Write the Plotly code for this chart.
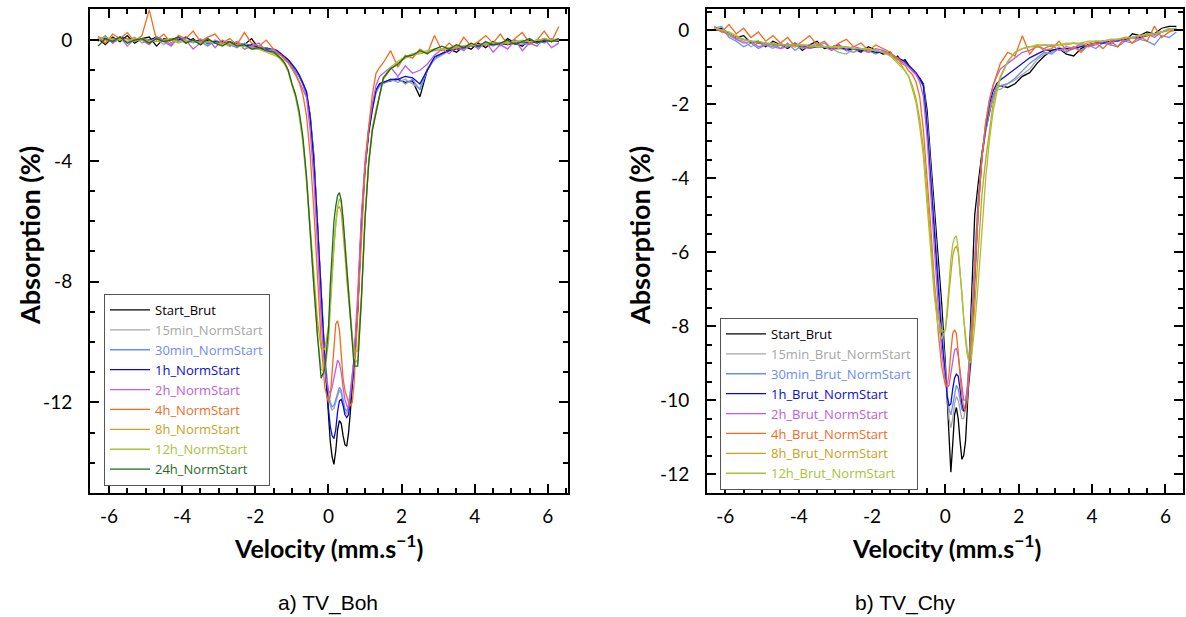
import plotly.graph_objects as go

# Shared velocity grid (mm/s)
V = [-6.3, -6.1, -5.9, -5.7, -5.5, -5.3, -5.1, -4.9, -4.7, -4.5, -4.3, -4.1, -3.9, -3.7, -3.5, -3.3, -3.1, -2.9, -2.7, -2.5, -2.3, -2.1, -1.9, -1.7, -1.5,
     -1.4, -1.3, -1.2, -1.1, -1.0, -0.9, -0.8, -0.7, -0.6, -0.5, -0.4,
     -0.3, -0.2, -0.1, 0.0, 0.05, 0.1, 0.15, 0.2, 0.25, 0.3, 0.35, 0.4, 0.45, 0.5, 0.55, 0.6, 0.65, 0.7, 0.8, 0.9, 1.0,
     1.1, 1.2, 1.3, 1.4,
     1.5, 1.7, 1.9, 2.1, 2.3, 2.5, 2.7, 2.9, 3.1, 3.3, 3.5, 3.7, 3.9, 4.1, 4.3, 4.5, 4.7, 4.9, 5.1, 5.3, 5.5, 5.7, 5.9, 6.1, 6.3]

# ---------------- a) TV_Boh ----------------
boh_names = ["Start_Brut", "15min_NormStart", "30min_NormStart", "1h_NormStart", "2h_NormStart",
             "4h_NormStart", "8h_NormStart", "12h_NormStart", "24h_NormStart"]
boh_colors = ["#000000", "#a6a6a6", "#6b8cf5", "#0a0ad8", "#c05ce0", "#f26b1d", "#c9a11c", "#a5c23a", "#1e6b1e"]

boh_start = [0.05, -0.15, 0.1, -0.05, 0.15, -0.1, 0.05, 0.1, -0.2, 0.05, 0.0, 0.1, -0.1, 0.05, -0.15, 0.0, -0.1, -0.05, -0.2, -0.1, -0.15, 0.05, -0.3, -0.25, -0.35,
             -0.4, -0.5, -0.55, -0.7, -0.85, -1.0, -1.2, -1.45, -1.8, -2.5, -3.8,
             -5.9, -8.4, -10.6, -12.4, -13.3, -13.8, -14.05, -13.6, -12.9, -12.6, -12.7, -13.1, -13.4, -13.45, -13.0, -12.3, -11.5, -10.8, -8.9, -6.1, -4.2,
             -3.0, -2.2, -1.7, -1.45,
             -1.4, -1.35, -1.3, -1.4, -1.35, -1.88, -1.0, -0.6, -0.45, -0.3, -0.4, -0.2, -0.3, -0.1, -0.25, -0.05, -0.15, 0.05, -0.1, -0.2, 0.0, -0.1, 0.05, -0.05, 0.0]
boh_15min = [0.0, 0.1, -0.1, 0.05, -0.05, 0.1, -0.1, 0.0, 0.05, -0.15, 0.05, -0.05, 0.0, -0.1, 0.05, -0.15, -0.05, -0.1, -0.2, -0.05, -0.2, -0.25, -0.2, -0.3, -0.35,
             -0.4, -0.45, -0.55, -0.65, -0.8, -0.95, -1.15, -1.4, -1.75, -2.5, -3.9,
             -6.0, -8.4, -10.4, -11.8, -12.1, -12.25, -12.2, -12.0, -11.8, -11.6, -11.7, -12.0, -12.3, -12.4, -12.2, -11.7, -11.1, -10.6, -8.8, -6.0, -4.2,
             -3.0, -2.25, -1.7, -1.5,
             -1.45, -1.3, -1.4, -1.3, -1.45, -1.6, -0.95, -0.65, -0.5, -0.35, -0.3, -0.25, -0.2, -0.2, -0.15, -0.1, -0.2, -0.05, -0.1, -0.15, -0.05, -0.1, 0.0, -0.05, 0.05]
boh_30min = [0.1, 0.0, -0.05, 0.1, -0.1, 0.05, 0.0, -0.1, 0.1, 0.0, -0.15, 0.05, -0.1, 0.0, -0.05, -0.2, 0.0, -0.1, -0.15, -0.25, -0.1, -0.2, -0.3, -0.25, -0.4,
             -0.45, -0.5, -0.6, -0.7, -0.85, -1.0, -1.2, -1.45, -1.8, -2.55, -4.0,
             -6.1, -8.5, -10.5, -11.7, -12.0, -12.15, -12.1, -11.9, -11.7, -11.5, -11.6, -11.9, -12.2, -12.3, -12.1, -11.6, -11.0, -10.6, -8.8, -6.0, -4.2,
             -3.0, -2.3, -1.75, -1.5,
             -1.4, -1.35, -1.25, -1.45, -1.3, -1.65, -1.0, -0.6, -0.45, -0.35, -0.3, -0.3, -0.15, -0.25, -0.1, -0.2, -0.1, -0.15, 0.0, -0.1, -0.15, 0.0, -0.1, 0.05, -0.05]
boh_1h = [0.1, 0.05, 0.0, 0.1, 0.05, -0.05, 0.05, 0.0, 0.1, -0.05, 0.05, 0.0, 0.1, -0.05, 0.0, -0.1, -0.05, -0.1, -0.05, -0.15, -0.2, -0.15, -0.25, -0.3, -0.3,
          -0.35, -0.45, -0.55, -0.65, -0.8, -0.95, -1.15, -1.4, -1.7, -2.55, -4.0,
          -6.1, -8.6, -10.6, -12.2, -12.8, -13.1, -13.2, -12.9, -12.3, -11.95, -11.9, -12.1, -12.4, -12.5, -12.4, -11.9, -11.3, -10.9, -9.0, -6.2, -4.3,
          -3.1, -2.3, -1.65, -1.45,
          -1.4, -1.3, -1.3, -1.2, -1.25, -1.45, -1.0, -0.55, -0.45, -0.35, -0.3, -0.25, -0.2, -0.2, -0.15, -0.15, -0.1, -0.15, -0.1, -0.05, -0.1, -0.05, -0.05, 0.0, -0.05]
boh_2h = [-0.05, 0.15, -0.1, 0.1, -0.2, 0.05, 0.0, -0.15, 0.1, -0.05, -0.2, 0.1, 0.0, -0.3, -0.1, 0.05, -0.25, 0.0, -0.15, -0.05, -0.3, -0.2, -0.1, -0.35, -0.3,
          -0.4, -0.5, -0.6, -0.75, -0.9, -1.1, -1.35, -1.6, -1.9, -3.0, -4.6,
          -6.8, -9.2, -11.0, -11.6, -11.7, -11.5, -11.2, -10.9, -10.6, -10.7, -11.0, -11.5, -11.9, -12.1, -12.2, -11.8, -11.2, -10.5, -8.4, -5.8, -4.0,
          -2.9, -2.1, -1.5, -1.2,
          -1.1, -0.9, -1.2, -0.85, -1.1, -1.0, -0.8, -0.5, -0.3, -0.45, -0.2, -0.35, -0.1, -0.3, -0.05, -0.4, -0.15, -0.3, 0.0, -0.35, -0.1, -0.2, 0.05, -0.25, -0.1]
boh_4h = [0.1, -0.1, 0.2, 0.05, 0.25, -0.05, 0.15, 1.0, 0.0, 0.2, -0.1, 0.15, 0.05, 0.3, -0.05, 0.1, 0.2, -0.1, 0.05, -0.15, 0.25, -0.1, -0.2, 0.0, -0.3,
          -0.45, -0.5, -0.65, -0.75, -0.95, -1.15, -1.4, -1.8, -2.5, -3.8, -5.6,
          -7.9, -10.0, -11.5, -12.0, -11.8, -11.0, -10.0, -9.4, -9.3, -9.6, -10.4, -11.2, -11.6, -11.8, -12.0, -12.1, -12.0, -11.4, -9.0, -6.3, -4.3,
          -2.9, -1.8, -1.1, -0.9,
          -0.75, -0.35, -0.9, -0.5, -0.6, -0.3, -0.45, 0.15, -0.35, -0.1, -0.3, 0.1, -0.2, -0.05, 0.15, -0.1, 0.2, -0.15, 0.05, 0.25, -0.1, 0.0, 0.3, -0.05, 0.45]
boh_8h = [0.1, 0.0, 0.05, 0.0, 0.05, -0.05, 0.05, 0.0, -0.05, 0.0, 0.05, -0.05, -0.05, 0.0, -0.1, -0.05, -0.1, -0.1, -0.15, -0.15, -0.2, -0.25, -0.3, -0.35, -0.45,
          -0.5, -0.6, -0.75, -1.0, -1.4, -1.85, -2.45, -3.3, -4.6, -6.2, -7.9,
          -9.3, -10.2, -10.25, -9.5, -8.6, -7.6, -6.7, -6.0, -5.6, -5.5, -5.7, -6.3, -7.1, -7.9, -8.6, -9.3, -9.9, -10.3, -10.3, -8.5, -5.9,
          -4.0, -2.9, -2.3, -1.75,
          -1.3, -0.95, -0.75, -0.6, -0.5, -0.45, -0.4, -0.35, -0.3, -0.3, -0.25, -0.2, -0.2, -0.15, -0.15, -0.1, -0.1, -0.1, -0.05, -0.05, -0.05, 0.0, 0.0, -0.05, 0.0]
boh_12h = [0.05, 0.1, 0.0, 0.05, -0.05, 0.05, 0.0, -0.05, 0.05, -0.05, 0.0, -0.1, 0.0, -0.05, -0.1, -0.05, -0.1, -0.15, -0.1, -0.2, -0.2, -0.3, -0.3, -0.4, -0.5,
           -0.55, -0.65, -0.8, -1.05, -1.45, -1.9, -2.5, -3.4, -4.7, -6.4, -8.2,
           -9.8, -10.9, -11.0, -10.0, -9.1, -7.9, -6.8, -6.0, -5.5, -5.25, -5.4, -6.0, -6.8, -7.6, -8.4, -9.2, -9.9, -10.5, -10.7, -8.7, -6.0,
           -4.1, -3.0, -2.4, -1.8,
           -1.25, -0.9, -0.7, -0.55, -0.45, -0.4, -0.35, -0.3, -0.3, -0.25, -0.2, -0.2, -0.15, -0.15, -0.1, -0.1, -0.1, -0.05, -0.05, 0.0, -0.05, 0.0, 0.05, 0.0, 0.05]
boh_24h = [-0.2, 0.05, -0.05, 0.1, -0.1, 0.0, 0.05, -0.1, 0.05, -0.05, 0.0, 0.1, -0.1, 0.0, -0.15, 0.05, -0.1, -0.2, -0.05, -0.2, -0.15, -0.3, -0.25, -0.35, -0.4,
           -0.5, -0.6, -0.75, -1.0, -1.45, -1.8, -2.35, -3.2, -4.5, -6.4, -8.15,
           -9.8, -11.2, -10.9, -9.6, -8.1, -6.9, -6.0, -5.5, -5.15, -5.05, -5.3, -5.9, -6.7, -7.5, -8.2, -9.1, -10.0, -10.8, -10.8, -8.6, -5.9,
           -4.1, -3.0, -2.4, -1.8,
           -1.25, -0.95, -0.8, -0.55, -0.5, -0.35, -0.45, -0.3, -0.2, -0.3, -0.15, -0.25, -0.1, -0.2, -0.05, -0.15, -0.1, 0.0, -0.15, -0.05, 0.05, -0.1, 0.0, -0.05, 0.05]
boh_series = [boh_start, boh_15min, boh_30min, boh_1h, boh_2h, boh_4h, boh_8h, boh_12h, boh_24h]

# ---------------- b) TV_Chy ----------------
chy_names = ["Start_Brut", "15min_Brut_NormStart", "30min_Brut_NormStart", "1h_Brut_NormStart",
             "2h_Brut_NormStart", "4h_Brut_NormStart", "8h_Brut_NormStart", "12h_Brut_NormStart"]
chy_colors = ["#000000", "#a6a6a6", "#6b8cf5", "#0a0ad8", "#c05ce0", "#f26b1d", "#c9a11c", "#a5c23a"]

chy_start = [0.0, 0.05, -0.1, -0.2, -0.15, -0.35, -0.3, -0.45, -0.3, -0.4, -0.5, -0.35, -0.55, -0.4, -0.3, -0.5, -0.45, -0.4, -0.55, -0.5, -0.6, -0.45, -0.55, -0.65, -0.6,
             -0.75, -0.7, -0.85, -0.8, -0.95, -1.1, -1.2, -1.3, -1.45, -2.15, -3.5,
             -4.8, -6.1, -7.4, -9.0, -10.0, -11.2, -11.95, -11.2, -10.4, -10.2, -10.5, -11.1, -11.6, -11.5, -11.1, -10.2, -9.0, -7.6, -5.0, -4.1, -3.3,
             -2.7, -2.2, -1.8, -1.55,
             -1.5, -1.55, -1.45, -1.25, -1.15, -0.9, -0.7, -0.55, -0.5, -0.65, -0.7, -0.5, -0.4, -0.35, -0.3, -0.35, -0.25, -0.3, -0.1, -0.15, -0.05, -0.1, 0.05, 0.1, 0.1]
chy_15min = [0.05, 0.0, -0.15, -0.25, -0.3, -0.45, -0.35, -0.4, -0.5, -0.35, -0.45, -0.4, -0.5, -0.45, -0.35, -0.45, -0.5, -0.6, -0.65, -0.5, -0.55, -0.6, -0.55, -0.6, -0.7,
             -0.75, -0.8, -0.85, -0.9, -1.0, -1.1, -1.2, -1.35, -1.5, -2.4, -3.7,
             -5.1, -6.5, -7.9, -9.2, -9.9, -10.5, -10.75, -10.5, -10.1, -9.9, -10.0, -10.3, -10.5, -10.5, -10.2, -9.7, -9.0, -8.2, -6.2, -4.5, -3.4,
             -2.7, -2.2, -1.85, -1.6,
             -1.6, -1.45, -1.35, -1.2, -1.05, -0.8, -0.65, -0.6, -0.45, -0.6, -0.5, -0.4, -0.45, -0.35, -0.3, -0.4, -0.25, -0.3, -0.2, -0.25, -0.1, -0.15, -0.05, 0.05, 0.0]
chy_30min = [0.05, 0.1, -0.2, -0.3, -0.45, -0.35, -0.5, -0.4, -0.45, -0.5, -0.35, -0.55, -0.4, -0.5, -0.45, -0.35, -0.5, -0.45, -0.55, -0.6, -0.5, -0.55, -0.65, -0.55, -0.65,
             -0.7, -0.8, -0.8, -0.9, -1.0, -1.1, -1.2, -1.35, -1.5, -2.5, -3.8,
             -5.2, -6.7, -8.1, -9.3, -9.8, -10.25, -10.4, -10.15, -9.8, -9.6, -9.7, -10.0, -10.25, -10.3, -10.1, -9.6, -8.9, -8.1, -6.2, -4.5, -3.4,
             -2.7, -2.1, -1.8, -1.55,
             -1.5, -1.45, -1.3, -1.1, -0.9, -0.75, -0.6, -0.65, -0.5, -0.6, -0.45, -0.55, -0.4, -0.5, -0.35, -0.4, -0.45, -0.3, -0.35, -0.25, -0.3, -0.4, -0.15, -0.2, -0.05]
chy_1h = [0.0, 0.0, -0.1, -0.2, -0.25, -0.3, -0.35, -0.35, -0.4, -0.4, -0.4, -0.4, -0.45, -0.45, -0.45, -0.45, -0.5, -0.5, -0.5, -0.5, -0.55, -0.55, -0.6, -0.6, -0.65,
          -0.7, -0.75, -0.8, -0.85, -0.95, -1.05, -1.15, -1.3, -1.5, -2.6, -3.95,
          -5.4, -6.9, -8.3, -9.4, -9.9, -10.15, -10.1, -9.7, -9.4, -9.3, -9.35, -9.7, -10.1, -10.3, -10.2, -10.0, -9.5, -8.9, -6.8, -4.8, -3.4,
          -2.6, -2.0, -1.65, -1.45,
          -1.35, -1.2, -1.05, -0.9, -0.75, -0.65, -0.55, -0.55, -0.5, -0.5, -0.5, -0.45, -0.4, -0.35, -0.35, -0.3, -0.3, -0.25, -0.2, -0.2, -0.15, -0.1, -0.05, 0.0, 0.0]
chy_2h = [0.05, -0.05, -0.1, -0.25, -0.35, -0.3, -0.45, -0.4, -0.35, -0.5, -0.45, -0.35, -0.45, -0.5, -0.4, -0.45, -0.55, -0.4, -0.5, -0.45, -0.5, -0.6, -0.5, -0.55, -0.65,
          -0.7, -0.75, -0.85, -0.9, -1.0, -1.1, -1.2, -1.4, -1.8, -2.9, -4.3,
          -5.9, -7.4, -8.7, -9.5, -9.65, -9.6, -9.3, -8.9, -8.65, -8.6, -8.8, -9.2, -9.7, -10.0, -10.0, -9.7, -9.1, -8.5, -6.6, -4.8, -3.4,
          -2.5, -1.9, -1.5, -1.25,
          -1.05, -0.9, -0.75, -0.6, -0.55, -0.45, -0.5, -0.4, -0.55, -0.45, -0.5, -0.35, -0.45, -0.4, -0.3, -0.35, -0.25, -0.3, -0.2, -0.25, -0.1, -0.2, -0.05, 0.0, 0.05]
chy_4h = [0.1, -0.05, 0.15, -0.1, 0.05, -0.2, -0.05, -0.3, -0.15, -0.35, -0.2, -0.45, -0.3, -0.15, -0.4, -0.3, -0.5, -0.35, -0.25, -0.45, -0.35, -0.55, -0.4, -0.5, -0.6,
          -0.7, -0.75, -0.9, -0.95, -1.1, -1.2, -1.4, -1.8, -2.7, -3.9, -5.3,
          -6.8, -8.1, -9.1, -9.6, -9.6, -9.3, -8.7, -8.2, -8.1, -8.2, -8.7, -9.4, -9.9, -10.2, -10.3, -10.0, -9.3, -8.5, -6.6, -4.8, -3.4,
          -2.5, -1.9, -1.5, -1.2,
          -0.9, -0.6, -0.7, -0.15, -0.65, -0.4, -0.55, -0.5, -0.3, -0.55, -0.45, -0.6, -0.4, -0.35, -0.5, -0.3, -0.45, -0.2, -0.35, -0.15, -0.3, 0.1, -0.2, -0.05, 0.0]
chy_8h = [0.05, 0.0, -0.1, -0.2, -0.25, -0.3, -0.35, -0.35, -0.4, -0.4, -0.4, -0.45, -0.4, -0.45, -0.4, -0.45, -0.45, -0.5, -0.45, -0.5, -0.5, -0.55, -0.55, -0.6, -0.65,
          -0.75, -0.85, -0.95, -1.1, -1.25, -1.5, -1.85, -2.4, -3.2, -4.4, -5.7,
          -6.9, -7.7, -8.15, -8.1, -7.7, -7.1, -6.5, -6.1, -5.9, -5.85, -6.0, -6.5, -7.1, -7.8, -8.3, -8.7, -8.8, -8.7, -7.5, -5.8, -4.4,
          -3.5, -2.7, -2.0, -1.55,
          -1.25, -0.85, -0.6, -0.5, -0.45, -0.45, -0.4, -0.45, -0.4, -0.4, -0.35, -0.4, -0.35, -0.3, -0.3, -0.25, -0.25, -0.2, -0.2, -0.15, -0.15, -0.1, -0.05, 0.0, 0.0]
chy_12h = [0.05, 0.0, -0.05, -0.15, -0.25, -0.3, -0.3, -0.35, -0.35, -0.4, -0.4, -0.4, -0.4, -0.4, -0.45, -0.45, -0.45, -0.45, -0.45, -0.5, -0.5, -0.5, -0.55, -0.6, -0.7,
           -0.8, -0.9, -1.0, -1.1, -1.25, -1.6, -1.95, -2.6, -3.4, -4.7, -6.0,
           -7.2, -8.0, -8.35, -8.1, -7.6, -6.9, -6.2, -5.8, -5.6, -5.57, -5.9, -6.5, -7.2, -7.9, -8.4, -8.8, -9.0, -8.95, -8.0, -6.8, -5.4,
           -4.0, -3.0, -2.2, -1.7,
           -1.3, -0.85, -0.6, -0.5, -0.45, -0.4, -0.4, -0.4, -0.4, -0.35, -0.35, -0.35, -0.3, -0.3, -0.3, -0.25, -0.25, -0.2, -0.2, -0.15, -0.1, -0.1, -0.05, 0.0, 0.05]
chy_series = [chy_start, chy_15min, chy_30min, chy_1h, chy_2h, chy_4h, chy_8h, chy_12h]

X_TICKS = [-6, -4, -2, 0, 2, 4, 6]
X_TICK_TEXT = ["-6", "-4", "-2", "0", "2", "4", "6"]
BOH_Y_TICKS = [0, -4, -8, -12]
BOH_Y_TEXT = ["0", "-4", "-8", "-12"]
CHY_Y_TICKS = [0, -2, -4, -6, -8, -10, -12]
CHY_Y_TEXT = ["0", "-2", "-4", "-6", "-8", "-10", "-12"]

fig = go.Figure()
for name, col, ys in zip(boh_names, boh_colors, boh_series):
    fig.add_trace(go.Scatter(x=V, y=ys, mode="lines", line=dict(color=col, width=1.3),
                             name=f"<span style='color:{col}'>{name}</span>",
                             xaxis="x", yaxis="y", legend="legend"))
for name, col, ys in zip(chy_names, chy_colors, chy_series):
    fig.add_trace(go.Scatter(x=V, y=ys, mode="lines", line=dict(color=col, width=1.3),
                             name=f"<span style='color:{col}'>{name}</span>",
                             xaxis="x2", yaxis="y2", legend="legend2"))

W, H = 1186, 617
TICKFONT = dict(family="Lato, Open Sans, sans-serif", size=19, color="black")


def ax(domain, rng, tickvals, ticktext, minor_dtick, anchor, standoff):
    return dict(domain=domain, range=rng, anchor=anchor, tickmode="array", tickvals=tickvals, ticktext=ticktext,
                showline=True, linecolor="black", linewidth=2, mirror="allticks",
                ticks="inside", ticklen=9, tickwidth=1.5, tickcolor="black",
                minor=dict(ticks="inside", dtick=minor_dtick, ticklen=5, tickwidth=1.5, tickcolor="black"),
                showgrid=False, zeroline=False, tickfont=TICKFONT, ticklabelstandoff=standoff)


ydom = [1 - 493 / H, 1 - 9 / H]
LEGFONT = dict(family="Open Sans, sans-serif", size=13, color="black")
fig.update_layout(
    width=W, height=H, margin=dict(l=0, r=0, t=0, b=0),
    paper_bgcolor="white", plot_bgcolor="white",
    xaxis=ax([90 / W, 568 / W], [-6.52, 6.55], X_TICKS, X_TICK_TEXT, 0.5, "y", 5),
    yaxis=ax(ydom, [-15, 1.03], BOH_Y_TICKS, BOH_Y_TEXT, 1, "x", 12),
    xaxis2=ax([707 / W, 1183 / W], [-6.5, 6.48], X_TICKS, X_TICK_TEXT, 0.5, "y2", 5),
    yaxis2=ax(ydom, [-12.51, 0.57], CHY_Y_TICKS, CHY_Y_TEXT, 0.5, "x2", 12),
    legend=dict(x=104 / W, y=1 - 294 / H, xanchor="left", yanchor="top", bgcolor="white",
                bordercolor="#555555", borderwidth=1, font=LEGFONT, tracegroupgap=0, itemwidth=40),
    legend2=dict(x=720 / W, y=1 - 318 / H, xanchor="left", yanchor="top", bgcolor="white",
                 bordercolor="#555555", borderwidth=1, font=LEGFONT, tracegroupgap=0, itemwidth=40),
    showlegend=True,
)

VEL_FONT = dict(family="Lato, Open Sans, sans-serif", size=25, color="black")
ABS_FONT = dict(family="Lato, Open Sans, sans-serif", size=27, color="black")
CAP_FONT = dict(family="Liberation Sans, Arial, sans-serif", size=21, color="black")
anns = [
    dict(x=328 / W, y=1 - 546 / H, text="<b>Velocity (mm.s<sup>−1</sup>)</b>", font=VEL_FONT),
    dict(x=946 / W, y=1 - 546 / H, text="<b>Velocity (mm.s<sup>−1</sup>)</b>", font=VEL_FONT),
    dict(x=29 / W, y=1 - 236 / H, text="<b>Absorption (%)</b>", textangle=-90, font=ABS_FONT),
    dict(x=639 / W, y=1 - 236 / H, text="<b>Absorption (%)</b>", textangle=-90, font=ABS_FONT),
    dict(x=328 / W, y=1 - 603 / H, text="a) TV_Boh", font=CAP_FONT),
    dict(x=905 / W, y=1 - 603 / H, text="b) TV_Chy", font=CAP_FONT),
]
for a in anns:
    fig.add_annotation(xref="paper", yref="paper", showarrow=False, xanchor="center", yanchor="middle", **a)

fig.write_html("out.html", config={"displayModeBar": False},
               post_script="document.body.style.margin='0px';document.body.style.overflow='hidden';")
